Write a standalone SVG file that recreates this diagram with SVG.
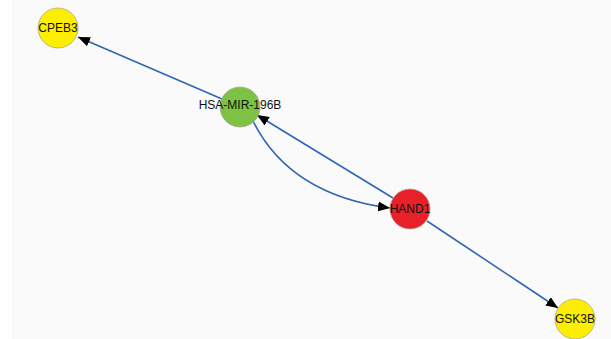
<svg xmlns="http://www.w3.org/2000/svg" width="611" height="339" viewBox="0 0 611 339">
  <style>
    .edge { fill: none; stroke: #2f66b3; stroke-width: 1.6; }
    .node { stroke: #b0a890; stroke-width: 0.8; }
    .label { font-family: "Liberation Sans", Arial, sans-serif; font-size: 12px; fill: #111; text-anchor: middle; dominant-baseline: central; }
  </style>
  <defs>
    <marker id="arrow" viewBox="0 0 12 10" refX="12" refY="5" markerWidth="12" markerHeight="10" markerUnits="userSpaceOnUse" orient="auto">
      <path d="M0,0 L12,5 L0,10 Z" fill="#000"/>
    </marker>
  </defs>

  <!-- canvas -->
  <rect x="0" y="0" width="611" height="339" fill="#ffffff"/>
  <rect x="12" y="0" width="599" height="339" fill="#fafafa"/>

  <g id="connectors">
    <line class="edge" x1="222" y1="99" x2="78" y2="37" marker-end="url(#arrow)"/>
    <line class="edge" x1="393" y1="198" x2="257" y2="115" marker-end="url(#arrow)"/>
    <path class="edge" d="M253,121 Q290,195 390,208" marker-end="url(#arrow)"/>
    <line class="edge" x1="427" y1="221" x2="558" y2="308" marker-end="url(#arrow)"/>
  </g>

  <g id="CPEB3">
    <circle class="node" cx="58" cy="28" r="20" fill="#fbee00"/>
    <text class="label" x="58" y="28">CPEB3</text>
  </g>
  <g id="HSA-MIR-196B">
    <circle class="node" cx="240" cy="107" r="20" fill="#7dc242"/>
    <text class="label" x="240" y="105">HSA-MIR-196B</text>
  </g>
  <g id="HAND1">
    <circle class="node" cx="410" cy="209" r="20" fill="#e8202a"/>
    <text class="label" x="410" y="209">HAND1</text>
  </g>
  <g id="GSK3B">
    <circle class="node" cx="575" cy="319" r="20" fill="#fbee00"/>
    <text class="label" x="575" y="319">GSK3B</text>
  </g>
</svg>
